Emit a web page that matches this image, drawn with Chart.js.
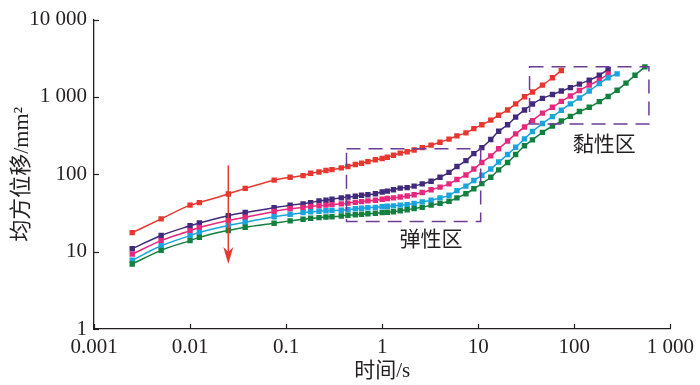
<!DOCTYPE html>
<html>
<head>
<meta charset="utf-8">
<script src="https://cdn.jsdelivr.net/npm/chart.js@4.4.1/dist/chart.umd.min.js"></script>
<style>
  html, body { margin: 0; padding: 0; background: #fff; }
</style>
</head>
<body>
<canvas id="myChart" width="700" height="385"></canvas>
<script>
const ctx = document.getElementById('myChart');

// time (s), shared by all curves
const times = [0.0025, 0.005, 0.01, 0.0125, 0.025, 0.0375, 0.075, 0.11, 0.15, 0.18,
  0.22, 0.26, 0.30, 0.375, 0.44, 0.525, 0.61, 0.71, 0.85, 1.0,
  1.13, 1.31, 1.54, 1.82, 2.15, 2.61, 3.23, 4.0, 4.96, 6.0,
  7.44, 9.0, 10.9, 13.5, 16.3, 20.2, 24.5, 30.3, 36.7, 46.6,
  59.2, 73.3, 91, 113, 143, 182, 225, 279, 345, 428, 543];

// mean square displacement (mm^2)
const red = [17.6, 26.5, 39.9, 43.1, 55.6, 65.8, 84.0, 91.6, 96.2, 103,
  107, 112, 115, 121, 126, 134, 139, 146, 154, 160,
  166, 176, 188, 196, 206, 221, 238, 260, 285, 314,
  343, 389, 437, 502, 581, 679, 815, 1006, 1158, 1422,
  1770, 2200];
const purple = [10.9, 16.2, 21.6, 23.5, 29.2, 32.1, 36.9, 39.9, 41.5, 43.1,
  45.3, 46.2, 47.6, 49.5, 50.9, 52.0, 53.5, 54.5, 56.1, 59.0,
  60.7, 63.1, 66.3, 67.3, 70.3, 75.2, 81.4, 91.6, 106, 126,
  150, 185, 221, 282, 360, 437, 548, 679, 810, 957,
  1077, 1192, 1321, 1465, 1647, 1906, 2274];
const pink = [9.29, 13.9, 18.6, 20.5, 25.2, 27.8, 33.1, 35.8, 37.2, 38.3,
  39.1, 39.9, 40.6, 41.5, 42.4, 43.4, 44.4, 45.3, 46.2, 47.6,
  48.7, 49.5, 50.9, 52.5, 54.5, 58.1, 63.1, 68.3, 75.2, 85.6,
  98, 117, 142, 173, 214, 269, 333, 409, 495, 617,
  735, 877, 1030, 1211, 1422, 1647, 1991];
const cyan = [7.73, 11.9, 16.1, 17.7, 21.8, 24.0, 28.3, 30.3, 31.9, 32.8,
  33.3, 33.8, 34.0, 34.3, 34.8, 35.8, 36.4, 36.9, 37.4, 38.0,
  38.6, 39.1, 39.9, 40.6, 41.9, 44.0, 46.2, 49.5, 53.5, 61.6,
  70.3, 83.1, 97.1, 117, 144, 180, 224, 287, 358, 453,
  556, 673, 815, 971, 1192, 1486, 1771, 1991];
const green = [6.93, 10.4, 13.9, 15.3, 18.8, 20.7, 23.3, 25.0, 26.2, 27.0,
  27.5, 28.1, 28.3, 28.9, 29.6, 30.0, 30.5, 30.9, 31.4, 31.9,
  32.3, 32.8, 33.8, 34.8, 36.1, 37.4, 39.9, 42.1, 44.9, 49.5,
  56.1, 65.0, 75.7, 91.6, 114, 142, 180, 234, 279, 348,
  421, 488, 560, 648, 735, 869, 1014, 1222, 1507, 1906, 2447];

const xTicks = [0.001, 0.01, 0.1, 1, 10, 100, 1000];
const xTickLabels = ['0.001', '0.01', '0.1', '1', '10', '100', '1 000'];
const yTicks = [1, 10, 100, 1000, 10000];
const yTickLabels = ['1', '10', '100', '1 000', '10 000'];

const serif = "'Liberation Serif', 'Noto Sans CJK SC', serif";
const ink = '#231f20';

function pts(vals) {
  return vals.map((v, i) => ({ x: times[i], y: v }));
}

function series(vals, color) {
  return {
    data: pts(vals),
    borderColor: color,
    backgroundColor: color,
    borderWidth: 1.5,
    pointStyle: 'rect',
    pointRadius: 3.8,
    pointBorderWidth: 0,
    cubicInterpolationMode: 'monotone'
  };
}

// inward ticks, dashed region boxes, labels and the arrow
const extras = {
  id: 'extras',
  afterDatasetsDraw(chart) {
    const c = chart.ctx;
    const x = chart.scales.x, y = chart.scales.y, a = chart.chartArea;
    c.save();
    c.strokeStyle = ink;
    c.lineWidth = 1.2;
    xTicks.forEach(v => {
      const p = Math.round(x.getPixelForValue(v)) + 0.5;
      c.beginPath(); c.moveTo(p, a.bottom); c.lineTo(p, a.bottom - 5); c.stroke();
    });
    yTicks.forEach(v => {
      const p = Math.round(y.getPixelForValue(v)) + 0.5;
      c.beginPath(); c.moveTo(a.left, p); c.lineTo(a.left + 5, p); c.stroke();
    });

    c.setLineDash([14, 8]);
    c.strokeStyle = '#6b3d97';
    c.lineWidth = 1.5;
    const box = (x0, x1, y0, y1) => {
      const l = x.getPixelForValue(x0), r = x.getPixelForValue(x1);
      const t = y.getPixelForValue(y1), b = y.getPixelForValue(y0);
      c.strokeRect(l, t, r - l, b - t);
    };
    box(0.425, 10.6, 24.5, 214);
    box(34.2, 598, 446, 2450);
    c.setLineDash([]);

    c.fillStyle = ink;
    c.font = "21px 'Noto Sans CJK SC'";
    c.textAlign = 'center';
    c.textBaseline = 'middle';
    c.fillText('弹性区', x.getPixelForValue(3.23), y.getPixelForValue(14.9));
    c.fillText('黏性区', x.getPixelForValue(205), y.getPixelForValue(256));

    // arrow
    const ax = x.getPixelForValue(0.025);
    const top = y.getPixelForValue(130), tip = y.getPixelForValue(6.9);
    c.strokeStyle = '#e8372f';
    c.fillStyle = '#e8372f';
    c.lineWidth = 1.5;
    c.beginPath(); c.moveTo(ax, top); c.lineTo(ax, tip - 8); c.stroke();
    c.beginPath();
    c.moveTo(ax, tip);
    c.lineTo(ax - 5, tip - 17);
    c.lineTo(ax, tip - 12);
    c.lineTo(ax + 5, tip - 17);
    c.closePath();
    c.fill();
    c.restore();
  }
};

new Chart(ctx, {
  type: 'line',
  data: {
    datasets: [
      series(green, '#12803f'),
      series(cyan, '#1aa3dc'),
      series(pink, '#e7287c'),
      series(purple, '#402a7c'),
      series(red, '#e8372f')
    ]
  },
  options: {
    responsive: false,
    animation: false,
    devicePixelRatio: 1,
    layout: { padding: { top: 13, right: 26, left: 0, bottom: 0 } },
    plugins: { legend: { display: false }, tooltip: { enabled: false } },
    scales: {
      x: {
        type: 'logarithmic',
        min: 0.001,
        max: 1000,
        afterBuildTicks: s => { s.ticks = xTicks.map(v => ({ value: v })); },
        afterFit: s => { s.height = 56; },
        ticks: {
          callback: (v, i) => xTickLabels[i],
          font: { family: serif, size: 21 },
          color: ink,
          padding: 6,
          maxRotation: 0,
          autoSkip: false
        },
        grid: { display: false, drawTicks: false },
        border: { color: ink, width: 1.3 },
        title: {
          display: true,
          text: '时间/s',
          font: { family: serif, size: 21 },
          color: ink,
          padding: { top: 0, bottom: 0.5 }
        }
      },
      y: {
        type: 'logarithmic',
        min: 1,
        max: 10000,
        afterBuildTicks: s => { s.ticks = yTicks.map(v => ({ value: v })); },
        afterFit: s => { s.width = 94; },
        ticks: {
          callback: (v, i) => yTickLabels[i],
          font: { family: serif, size: 21 },
          color: ink,
          padding: 7,
          autoSkip: false
        },
        grid: { display: false, drawTicks: false },
        border: { color: ink, width: 1.3 },
        title: {
          display: true,
          text: '均方位移/mm²',
          font: { family: serif, size: 22 },
          color: ink,
          padding: { top: 9, bottom: 0 }
        }
      }
    }
  },
  plugins: [extras]
});
</script>
</body>
</html>
